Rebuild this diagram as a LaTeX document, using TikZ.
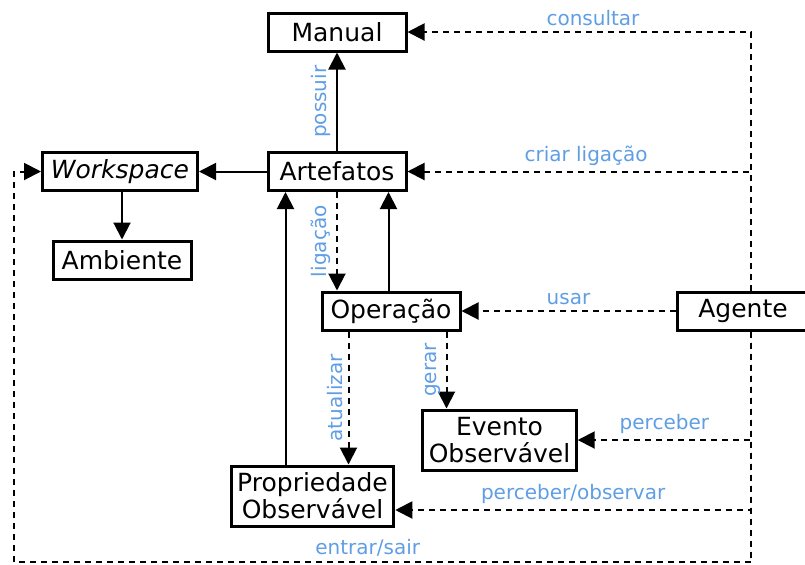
\documentclass[tikz,border=0pt]{standalone}
\usepackage{fontspec}
\setmainfont{DejaVu Sans}
\usetikzlibrary{arrows.meta, calc}
\definecolor{labelblue}{RGB}{95, 158, 228}
\tikzset{
    box/.style={draw, line width=1.5pt, fill=white, minimum width=69pt,
        minimum height=19pt, inner sep=3pt, align=center,
        font=\fontsize{12.5}{13.5}\selectfont},
    flow/.style={line width=1pt, -{Triangle[length=8.5pt, width=8.5pt]}},
    dflow/.style={flow, dash pattern=on 3pt off 2.5pt},
    lbl/.style={text=labelblue, font=\fontsize{10}{12}\selectfont,
        inner sep=2.5pt},
    vlbl/.style={lbl, rotate=90, anchor=south},
}

\begin{document}
\begin{tikzpicture}[x=0.5pt, y=-0.5pt]
        \useasboundingbox (0, 0) rectangle (805, 564);
        \node[box] (manual) at (337, 32) {Manual};
        \node[box] (artefatos) at (337, 171.5) {Artefatos};
        \node[box, minimum width=77.5pt] (workspace) at (120, 171.5)
            {\textit{Workspace}};
        \node[box] (ambiente) at (122, 260) {Ambiente};
        \node[box] (operacao) at (391, 311) {Operação};
        \node[box, minimum width=66pt] (agente) at (743, 311) {Agente};
        \node[box, minimum height=30pt] (evento) at (499.5, 440)
            {Evento\\Observável};
        \node[box, minimum height=30pt] (propriedade) at (312.5, 496)
            {Propriedade\\Observável};
        \coordinate (rail) at (751, 0);
        \coordinate (corner) at (14, 562);
        % solid links
        \draw[flow] (artefatos) -- (manual) node[midway, vlbl] {possuir};
        \draw[flow] (artefatos) -- (workspace);
        \draw[flow] (workspace.south -| ambiente) -- (ambiente);
        \draw[flow] ([xshift=9.5pt]artefatos.south west |- propriedade.north)
            -- ([xshift=9.5pt]artefatos.south west);
        \draw[flow] ([xshift=-9.5pt]artefatos.south east |- operacao.north)
            -- ([xshift=-9.5pt]artefatos.south east);
        % dashed links
        \draw[dflow] (artefatos.south) -- (artefatos.south |- operacao.north)
            node[midway, vlbl] {ligação};
        \draw[dflow] ([xshift=14pt]operacao.south west) --
            ([xshift=14pt]operacao.south west |- propriedade.north)
            node[midway, vlbl] {atualizar};
        \draw[dflow] ([xshift=-7.5pt]operacao.south east) --
            ([xshift=-7.5pt]operacao.south east |- evento.north)
            node[midway, vlbl] {gerar};
        \draw[dflow] (agente) -- (operacao) node[midway, above, lbl] {usar};
        % agent rail
        \draw[dflow] (rail |- agente.north) |- (manual.east)
            node[pos=0.73, above, lbl] {consultar};
        \draw[dflow] (rail |- agente.north) |- (artefatos.east)
            node[pos=0.74, above, lbl] {criar ligação};
        \draw[dflow] (rail |- agente.south) |- (evento.east)
            node[pos=0.75, above, lbl] {perceber};
        \draw[dflow] (rail |- agente.south) |- ([yshift=-7pt]propriedade.east)
            node[pos=0.75, above, lbl] {perceber/observar};
        \draw[dflow] (rail |- agente.south) |- (corner)
            node[pos=0.76, above, lbl] {entrar/sair} |- (workspace.west);
    \end{tikzpicture}
\end{document}
